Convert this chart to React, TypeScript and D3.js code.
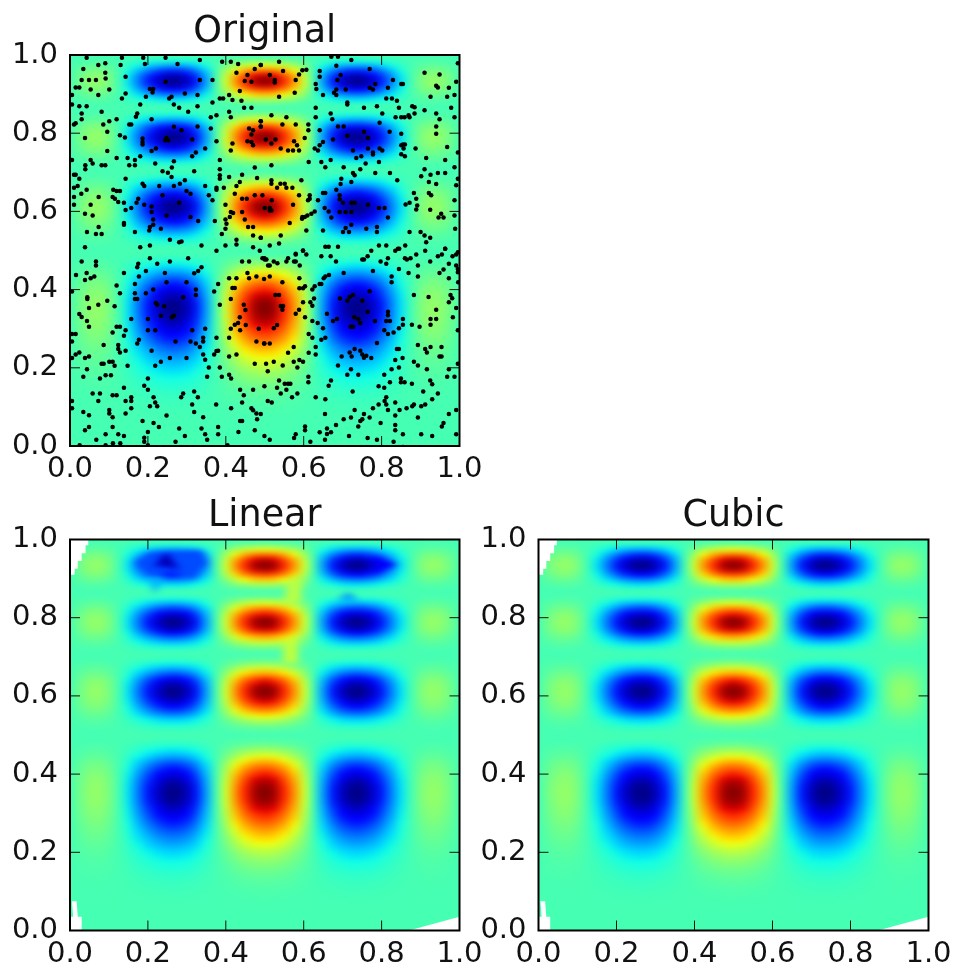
import React from "react";
import * as d3 from "d3";

// Field: colour along x and along y, both panels of the grid share them.
const xStep = 0.025;
const xProfile = [0,.0232,.0384,.0408,.0278,0,-.0394,-.0849,-.1294,-.1658,-.1875,-.1896,-.1699,-.129,-.0703,0,.0742,.1437,.2002,.2372,.25,.2372,.2002,.1437,.0742,0,-.0703,-.129,-.1699,-.1896,-.1875,-.1658,-.1294,-.0849,-.0394,0,.0278,.0408,.0384,.0232,0];
const yStep = 0.0125;
const yProfile = [0,0,0,0,.001,.0024,.005,.0092,.0157,.0251,.0381,.0554,.0778,.1061,.1409,.1829,.2334,.2888,.3535,.4234,.5,.5793,.6647,.7458,.818,.8847,.9408,.9806,.999,.9933,.9619,.9021,.819,.712,.586,.451,.316,.192,.091,.0239,0,.0251,.1002,.2205,.375,.549,.72,.865,.964,1,.962,.85,.684,.483,.281,.114,.016,.0092,.1,.275,.5,.728,.909,.996,.964,.817,.586,.328,.112,.006,.038,.208,.46,.741,.941,.998,.89,.638,.337,.094,0];

const colourMin = -0.1925;
const colourMax = 0.25;
const jetStops = [0,.11,.125,.34,.35,.375,.64,.65,.66,.89,.91,1];
const jetColours = ["#00007f","#0000ff","#0000ff","#00dbff","#00e5f6","#12ffe5","#f4ff0a","#ffee00","#ffe400","#ff1e00","#e60000","#7f0000"];

const tickValues = [0,.2,.4,.6,.8,1];

// Irregular facets of the Linear panel: value, then outline in data units
const linearFacets: [number, number[][]][] = [
  [-.105, [[.162,.94],[.205,.97],[.342,.974],[.355,.94],[.316,.897],[.265,.915],[.205,.91]]],
  [-.16, [[.214,.932],[.248,.97],[.282,.923]]],
  [-.192, [[.235,.945],[.25,.955],[.262,.935]]],
  [-.06, [[.2,.906],[.24,.906],[.218,.859]]],
  [-.14, [[.786,.96],[.842,.936],[.786,.91]]],
  [-.07, [[.688,.846],[.714,.867],[.739,.846]]],
  [.06, [[.55,.84],[.592,.84],[.598,.9],[.56,.9]]],
  [.065, [[.548,.685],[.585,.685],[.585,.745],[.548,.745]]],
];

// White areas outside the data's hull, both lower panels
const hullCorners = [
  [[0,1],[.047,1],[.047,.985],[.04,.985],[.04,.965],[.03,.965],[.03,.945],[.02,.945],[.02,.925],[.012,.925],[.012,.91],[0,.91]],
  [[.005,.075],[.017,.075],[.02,.035],[.03,.035],[.03,0],[0,0],[0,.035],[.008,.035]],
  [[1,.035],[.87,0],[1,0]],
];

// Sample dots as read from four enlarged quadrants (1/1170 of an axis, quadrant-relative)
const dotsTopLeft = [80,38,186,38,250,38,317,38,420,45,487,50,513,50,136,55,115,60,182,60,255,57,353,57,535,57,603,60,585,72,70,72,136,83,530,83,65,105,87,105,108,105,137,100,197,95,317,110,420,105,458,105,563,90,575,110,555,108,47,127,58,127,92,133,148,133,270,132,280,132,278,142,540,138,36,150,115,150,197,145,258,155,335,155,375,145,413,150,508,150,480,160,490,160,186,160,328,160,518,165,545,167,36,178,58,183,80,183,241,178,342,178,458,172,413,183,358,188,553,188,575,188,125,200,65,205,232,205,385,200,508,200,65,222,170,222,228,215,275,222,470,210,453,216,513,216,603,228,148,228,47,234,42,238,130,238,208,238,214,238,342,245,413,244,453,250,603,245,568,250,142,260,365,255,580,255,575,268,180,270,75,278,195,277,248,280,248,290,248,298,320,278,325,285,316,285,397,283,470,288,563,288,575,290,580,300,518,295,288,310,275,317,142,317,436,310,408,322,513,316,241,333,170,338,203,338,225,344,397,333,36,344,92,344,480,344,98,355,342,348,286,355,125,360,136,360,208,360,225,360,76,360,76,372,336,367,308,378,324,382,403,378,480,372,585,367,42,388,47,388,58,400,197,400,335,395,480,390,480,400,547,388,508,395,592,398,375,405,360,415,342,422,248,415,253,422,298,422,436,422,540,410,530,422,53,422,42,427,80,433,160,433,170,437,180,437,380,437,470,427,470,433,492,427,64,445,42,455,158,455,165,460,308,450,392,445,447,450,585,450,561,460,547,460,525,445,116,455,235,460,230,472,175,470,192,472,253,478,358,472,458,465,42,478,92,478,497,478,275,483,214,488,197,494,275,500,75,505,98,510,320,510,392,515,513,500,520,503,547,500,510,515,280,522,415,527,465,527,497,522,555,522,192,533,192,538,116,545,280,538,270,545,268,555,303,550,500,535,565,545,580,545,497,550,81,560,225,560,108,566,125,566,486,566,580,570,603,577,330,583,358,590,365,588,530,583,425,600,75,605,241,605,270,600,470,616,497,600,580,605,600,616,530,597];
const dotsTopRight = [58,50,215,35,235,35,275,45,595,55,230,62,3,60,70,78,128,76,140,74,330,72,180,78,495,83,540,88,118,88,30,90,180,95,243,90,108,105,45,105,45,112,233,105,400,105,590,110,168,117,347,117,425,117,430,117,530,122,535,127,568,128,170,132,230,133,258,133,330,128,340,133,385,128,105,143,190,150,223,143,230,150,58,155,380,160,397,160,412,167,513,155,563,155,585,150,263,172,263,178,458,183,465,186,313,188,352,183,418,188,168,188,575,188,495,195,465,205,213,205,368,205,435,216,408,216,425,216,447,210,450,216,530,205,168,216,585,216,540,222,35,210,80,216,218,222,3,228,68,238,108,238,146,238,235,244,252,244,360,233,3,244,530,244,146,255,180,255,313,260,390,260,425,266,530,266,263,272,325,278,135,278,220,283,18,283,47,283,35,295,103,288,112,300,430,298,436,298,425,300,432,310,563,305,468,310,190,290,180,300,63,310,85,316,100,316,118,316,165,310,175,316,360,310,368,316,325,310,305,333,280,316,340,322,340,328,425,327,436,333,595,322,290,338,500,338,147,350,185,350,213,344,557,344,358,350,318,355,35,360,197,366,252,366,302,372,585,366,495,372,280,383,285,390,347,383,391,383,535,383,557,383,513,388,485,393,595,400,125,405,35,405,35,415,62,415,75,415,245,400,275,410,243,416,413,405,508,410,530,416,590,420,52,427,80,427,98,427,230,433,463,443,508,443,515,450,150,450,150,460,145,465,118,450,190,443,197,443,8,450,240,450,240,462,36,465,585,465,450,472,470,460,438,477,512,493,175,465,250,472,275,472,285,472,325,478,473,480,470,492,100,478,358,488,375,488,15,488,30,488,30,495,35,495,195,488,240,500,258,500,275,500,207,498,165,498,155,505,143,510,135,515,127,520,128,515,215,516,385,516,545,505,537,516,552,516,585,510,90,533,275,538,258,548,250,560,320,550,352,545,352,560,190,555,268,560,140,555,587,550,63,570,3,577,483,560,495,570,512,577,450,560,30,600,58,594,197,604,207,604,235,604,358,600,380,600,415,610,437,600,500,590,557,610,130,616,108,625,595,620,590,627];
const dotsBottomLeft = [65,48,108,48,108,60,235,55,232,65,270,38,292,55,330,48,385,38,547,48,568,48,608,38,615,42,258,76,415,76,425,65,403,83,192,82,80,82,48,88,315,82,625,60,103,93,92,98,75,103,237,93,508,98,530,98,568,98,590,93,563,82,613,100,320,110,380,110,475,115,170,120,225,115,518,127,525,127,36,138,180,143,225,143,258,143,280,132,408,132,408,148,463,138,82,155,82,160,142,165,225,160,232,160,370,155,513,160,115,177,164,182,87,187,288,172,292,177,313,182,480,177,552,177,557,193,58,205,65,214,303,210,342,210,336,215,214,220,264,220,540,215,81,226,87,243,170,243,180,243,197,254,264,254,286,254,397,254,436,249,535,232,525,237,558,238,513,249,597,249,541,254,36,265,47,265,158,260,192,270,470,276,430,276,508,276,36,287,237,282,232,293,347,287,392,287,408,293,430,287,590,287,613,293,131,298,175,298,175,310,180,320,197,315,275,315,420,304,475,315,470,316,58,320,47,326,87,332,75,337,36,337,430,326,463,326,508,332,530,326,330,337,380,337,436,342,303,348,125,354,131,354,148,348,158,348,164,360,203,360,286,360,585,354,81,370,447,365,480,365,70,393,120,398,137,388,153,388,264,398,442,393,486,393,508,387,514,398,192,426,253,420,264,432,541,432,580,432,98,443,120,443,158,448,170,448,370,443,403,437,364,454,414,454,552,448,36,465,115,465,197,465,214,454,214,465,281,454,286,470,547,470,397,476,469,476,36,487,214,487,270,481,292,481,514,487,575,487,580,493,70,498,148,492,148,503,87,508,197,503,403,498,590,503,158,514,320,509,430,514,592,520,248,525,281,531,541,525,547,525,87,543,158,543,297,543,75,553,358,548,425,548,475,543,264,558,536,558,585,553,137,565,175,565,192,570,375,570,436,565,475,565,109,581,253,575,253,587,442,581,347,587,59,598,137,598,159,592,181,592,264,598,503,598];
const dotsBottomRight = [130,15,140,27,108,27,14,38,20,42,185,32,213,32,85,38,80,48,42,48,30,60,53,53,103,48,108,48,120,60,229,48,308,42,313,42,324,32,335,16,407,16,419,10,385,38,363,48,380,55,436,38,442,42,453,38,470,27,497,16,512,48,475,60,535,32,547,27,557,10,579,32,568,55,590,60,595,70,252,82,340,76,418,70,447,82,552,72,540,82,475,93,595,80,30,93,208,88,197,93,192,98,119,98,396,93,396,110,68,110,185,115,568,98,596,110,119,128,130,128,136,122,165,122,180,115,158,132,330,137,47,148,58,148,463,148,507,154,573,148,578,158,241,159,280,148,270,154,263,165,308,165,163,159,130,170,152,170,158,180,568,170,590,187,63,181,70,181,68,192,118,192,108,204,530,192,324,198,385,198,385,209,202,204,136,215,284,215,296,220,232,220,220,226,380,226,391,226,430,220,513,220,530,220,580,215,158,226,174,232,346,226,302,232,52,238,42,248,190,248,273,243,280,243,430,237,418,248,457,237,480,243,513,237,374,254,402,260,385,265,595,254,147,265,158,276,197,276,185,282,352,292,14,293,30,293,475,298,513,304,546,304,102,304,497,310,502,320,168,304,412,310,418,310,285,310,302,315,85,321,147,321,168,326,270,320,276,332,246,332,308,326,313,336,320,330,335,337,429,337,540,332,546,332,407,343,19,354,42,348,69,359,102,348,119,343,130,348,113,365,235,359,463,348,475,359,595,354,24,376,274,370,396,370,418,365,502,370,568,370,146,393,146,409,263,387,296,387,374,387,563,393,585,393,512,404,518,415,58,404,75,414,85,414,92,414,214,404,207,420,391,409,424,398,424,409,435,409,457,414,14,421,52,426,80,432,357,421,374,426,113,443,63,443,97,454,168,454,197,460,279,437,491,437,535,443,380,454,375,465,518,460,24,465,36,470,357,476,380,476,407,470,463,476,458,481,497,476,485,481,340,487,385,492,420,492,441,487,285,492,590,492,3,504,196,504,313,504,568,504,407,509,475,515,252,520,274,515,308,520,302,525,330,515,229,537,296,542,363,531,407,537,552,531,547,542,136,542,136,553,202,548,180,559,202,564,214,559,407,553,430,565,485,565,518,570,590,565,108,565,103,576,14,570,30,581,268,570,324,576,352,581,196,581,152,587,402,587,430,603];

const quadrants: [number[], number, number][] = [
  [dotsTopLeft, -30, -30],
  [dotsTopRight, 570, -30],
  [dotsBottomLeft, -30, 570],
  [dotsBottomRight, 570, 570],
];
const points: [number, number][] = quadrants.flatMap(([flat, ox, oy]) =>
  d3.range(0, flat.length, 2).map((i) => [(flat[i] + ox) / 1170, 1 - (flat[i + 1] + oy) / 1170] as [number, number])
);

const jet = d3.scaleLinear<string>().domain(jetStops).range(jetColours).clamp(true);
const valueToT = d3.scaleLinear().domain([colourMin, colourMax]).range([0, 1]).clamp(true);
const colour = (v: number) => jet(valueToT(v));

const FONT = "'DejaVu Sans', sans-serif";
const INK = "#111";

function Panel({ id, title, left, top, width, height, dots, facets, hull }: any) {
  const x = d3.scaleLinear().domain([0, 1]).range([left, left + width]);
  const y = d3.scaleLinear().domain([0, 1]).range([top + height, top]);
  const tick = 10;
  const pts = (poly: number[][]) => poly.map(([a, b]) => `${x(a)},${y(b)}`).join(" ");
  return (
    <g>
      <clipPath id={`clip-${id}`}><rect x={left} y={top} width={width} height={height} /></clipPath>
      <g clipPath={`url(#clip-${id})`}>
        <g filter="url(#smooth)">
          {xProfile.map((px, i) =>
            yProfile.map((py, j) => {
              const x0 = i === 0 ? -0.1 : (i - 0.5) * xStep;
              const x1 = i === xProfile.length - 1 ? 1.1 : (i + 0.5) * xStep;
              const y0 = j === 0 ? -0.1 : (j - 0.5) * yStep;
              const y1 = j === yProfile.length - 1 ? 1.1 : (j + 0.5) * yStep;
              return (
                <rect key={`${i}-${j}`} x={x(x0)} y={y(y1)} width={x(x1) - x(x0) + 0.6} height={y(y0) - y(y1) + 0.6}
                  fill={colour(px * py)} shapeRendering="crispEdges" />
              );
            })
          )}
          {facets && facets.map(([v, poly]: [number, number[][]], i: number) => (
            <polygon key={`p${i}`} points={pts(poly)} fill={colour(v)} />
          ))}
        </g>
        {hull && hull.map((poly: number[][], i: number) => (
          <polygon key={`h${i}`} points={pts(poly)} fill="#fff" />
        ))}
        {dots && dots.map(([a, b]: [number, number], i: number) => (
          <circle key={`d${i}`} cx={x(a)} cy={y(b)} r={2.25} fill="#000" />
        ))}
      </g>
      {tickValues.map((t) => (
        <g key={t} stroke={INK} strokeWidth={1}>
          <line x1={x(t)} x2={x(t)} y1={top + height} y2={top + height - tick} />
          <line x1={x(t)} x2={x(t)} y1={top} y2={top + tick} />
          <line x1={left} x2={left + tick} y1={y(t)} y2={y(t)} />
          <line x1={left + width} x2={left + width - tick} y1={y(t)} y2={y(t)} />
        </g>
      ))}
      <rect x={left} y={top} width={width} height={height} fill="none" stroke="#000" strokeWidth={2} />
      {tickValues.map((t) => (
        <g key={`l${t}`} fontFamily={FONT} fontSize={29} fill={INK}>
          <text x={x(t)} y={top + height + 31} textAnchor="middle">{t.toFixed(1)}</text>
          <text x={left - 12} y={y(t) + 7.5} textAnchor="end">{t.toFixed(1)}</text>
        </g>
      ))}
      <text x={left + width / 2} y={top - 13.5} textAnchor="middle" fontFamily={FONT} fontSize={36.5} fill={INK}>{title}</text>
    </g>
  );
}

export default function App() {
  return (
    <svg width={954} height={965} viewBox="0 0 954 965" style={{ position: "absolute", left: 0, top: 0, display: "block", background: "#fff" }}>
      <defs>
        <filter id="smooth" x="-20%" y="-20%" width="140%" height="140%" colorInterpolationFilters="sRGB">
          <feGaussianBlur stdDeviation="4 2.6" />
        </filter>
        <filter id="soft" x="-2%" y="-2%" width="104%" height="104%" colorInterpolationFilters="sRGB">
          <feGaussianBlur stdDeviation="0.55" />
        </filter>
      </defs>
      <g filter="url(#soft)">
        <Panel id="orig" title="Original" left={70} top={55} width={389.5} height={391} dots={points} />
        <Panel id="lin" title="Linear" left={70} top={539.5} width={389.5} height={391} facets={linearFacets} hull={hullCorners} />
        <Panel id="cub" title="Cubic" left={538.5} top={539.5} width={390} height={391} hull={hullCorners} />
      </g>
    </svg>
  );
}
